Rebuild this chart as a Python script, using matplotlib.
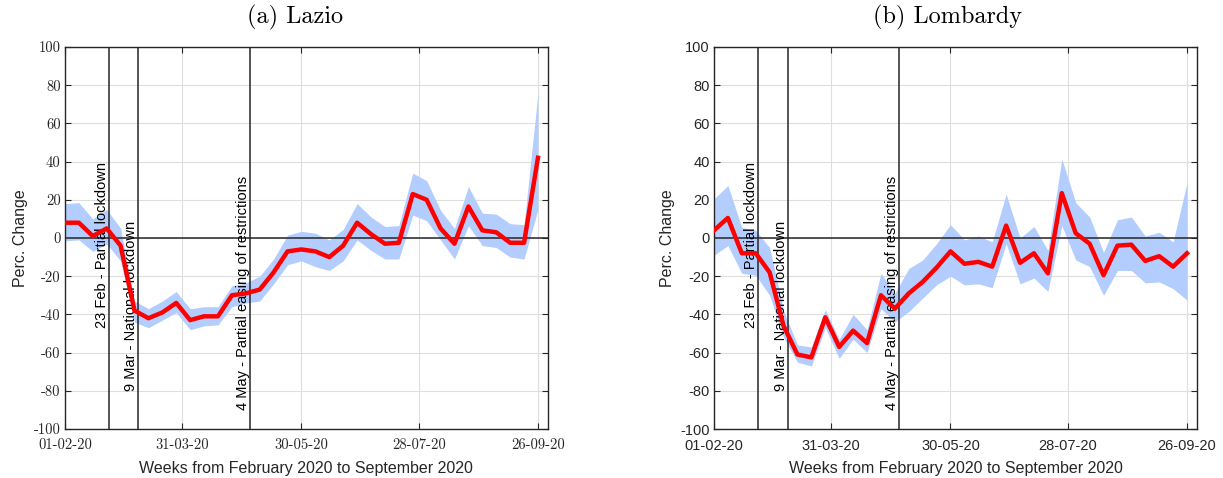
import pandas as pd
import matplotlib
matplotlib.use('Agg')
import matplotlib.pyplot as plt


# weekly observations, 01-02-20 .. 26-09-20
weeks = pd.date_range('2020-02-01', periods=35, freq='7D')

lazio_mean = [8, 8, 1, 5, -4, -38, -42, -39, -34, -43, -41, -41, -30, -29, -27, -18, -7, -6,
              -7, -10, -4, 8, 2, -3, -2.5, 23, 20, 5, -3, 16.5, 4, 3, -2.5, -2.5, 42]
lazio_high = [18, 18.5, 10, 15, 5, -33, -37, -33, -28, -37, -36, -36, -25, -23.5, -20, -11, 1.5, 3.5,
              2.5, -1, 4.5, 18, 11, 6, 6.5, 34, 30, 14.5, 5, 27, 13, 12.5, 7.5, 7, 76]
lazio_low = [-1.5, -1, -7, -3, -12, -44, -47, -43, -39, -48, -46, -45.5, -36, -34, -33, -24, -14, -12,
             -15, -17, -12, -1, -6.5, -11, -11, 12, 9, -1, -11, 6.5, -4, -5, -10, -11, 15]

lomb_mean = [4, 10.5, -8, -8, -18, -46, -61, -62.5, -41.5, -57, -48.5, -55, -30, -37, -29, -23, -15.5, -7,
             -13.5, -12.5, -15, 6.5, -13, -8, -18.5, 23.5, 2.5, -3, -19.5, -4, -3.5, -12, -9.5, -15, -8]
lomb_high = [20.5, 27.5, 5.5, 4, -5, -38, -56, -57, -37.5, -53, -40, -48, -18.5, -29, -16, -11.5, -3, 7,
             -1, 1, -2, 23, 0, 6, -6.5, 41.5, 18.5, 11, -7.5, 9.5, 11, 1, 3, -2, 29]
lomb_low = [-9, -4, -18.5, -19.5, -30, -52, -65, -67, -47, -63, -53, -60, -37, -44, -38.5, -31.5, -24.5, -20,
            -24.5, -24, -26, -3, -24, -21, -28, 6.5, -11.5, -15, -30, -17, -17, -23.5, -23, -26.5, -32.5]

event_dates = ['2020-02-23', '2020-03-09', '2020-05-04']
event_labels = ['23 Feb - Partial lockdown', '9 Mar - National lockdown',
                '4 May - Partial easing of restrictions']
event_text_y = [-47, -80, -90]

tick_dates = pd.to_datetime(['2020-02-01', '2020-03-31', '2020-05-30', '2020-07-28', '2020-09-26'])
tick_labels = [d.strftime('%d-%m-%y') for d in tick_dates]
y_ticks = list(range(-100, 101, 20))

axis_col = '#262626'
sans = 'Liberation Sans'


def panel(ax, mean, low, high, tick_font):
    ax.fill_between(weeks, low, high, color='#b3cdfe', lw=0, zorder=2)
    ax.axhline(0, color=axis_col, lw=1.1, zorder=3)
    for d, lab, ty in zip(event_dates, event_labels, event_text_y):
        ax.axvline(pd.Timestamp(d), color=axis_col, lw=1.1, zorder=3)
        ax.text(pd.Timestamp(d), ty, lab, rotation=90, ha='right', va='bottom',
                fontsize=10.5, family=sans, color='black', zorder=4)
    ax.plot(weeks, mean, color='#ff0000', lw=3.2, zorder=5)

    ax.set_xlim(pd.Timestamp('2020-02-01'), pd.Timestamp('2020-10-01'))
    ax.set_ylim(-100, 100)
    ax.set_xticks(tick_dates)
    ax.set_xticklabels(tick_labels, family=tick_font, fontsize=10.5, color=axis_col)
    ax.set_yticks(y_ticks)
    ax.set_yticklabels([str(v) for v in y_ticks], family=tick_font, fontsize=10.5, color=axis_col)
    ax.tick_params(direction='in', length=4, width=0.8, color=axis_col,
                   top=True, right=True, pad=3)
    ax.tick_params(axis='x', pad=7)
    ax.grid(True, color='#dedede', lw=0.8)
    ax.set_axisbelow(True)
    for s in ax.spines.values():
        s.set_color(axis_col)
        s.set_linewidth(1.0)
    ax.set_ylabel('Perc. Change', family=sans, fontsize=11.5, color=axis_col, labelpad=4)
    ax.set_xlabel('Weeks from February 2020 to September 2020', family=sans, fontsize=11.5,
                  color=axis_col, labelpad=6)


fig = plt.figure(figsize=(12.23, 4.78), dpi=100)
ax1 = fig.add_axes([0.0531, 0.1025, 0.3949, 0.7992])
ax2 = fig.add_axes([0.5838, 0.1025, 0.3949, 0.7992])

panel(ax1, lazio_mean, lazio_low, lazio_high, 'cmr10')
panel(ax2, lomb_mean, lomb_low, lomb_high, sans)

fig.text(295 / 1223, 1 - 17 / 478, '(a) Lazio', family='cmr10', fontsize=17.5, ha='center', va='center')
fig.text(948 / 1223, 1 - 17 / 478, '(b) Lombardy', family='cmr10', fontsize=17.5, ha='center', va='center')

fig.savefig('out.png', dpi=100)
